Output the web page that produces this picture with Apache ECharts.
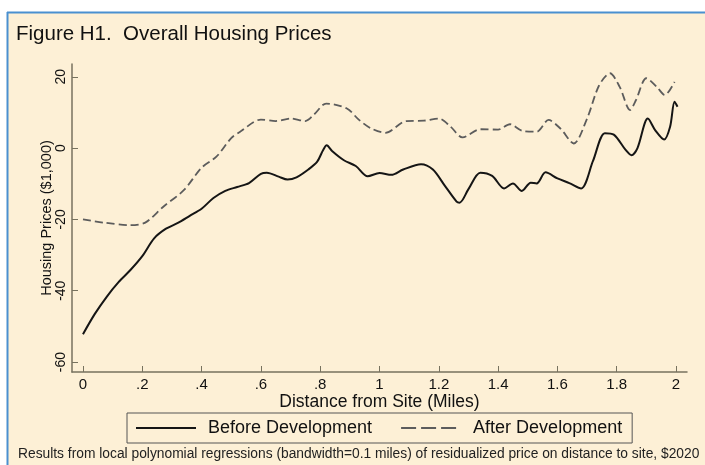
<!DOCTYPE html>
<html>
<head>
<meta charset="utf-8">
<title>Figure H1. Overall Housing Prices</title>
<script src="https://cdn.jsdelivr.net/npm/echarts@6/dist/echarts.min.js"></script>
<style>
    html, body { margin: 0; padding: 0; background: #ffffff; }
    #chart { width: 705px; height: 465px; }
</style>
</head>
<body>
<div id="chart"></div>
<script>
// distance from site (miles) and residualized price ($1,000)
const distBefore = [0, 0.04, 0.08, 0.12, 0.16, 0.2, 0.24, 0.28, 0.32, 0.36, 0.4, 0.44, 0.48, 0.52, 0.56, 0.6, 0.62, 0.66, 0.69, 0.72, 0.76, 0.79, 0.81, 0.822, 0.84, 0.88, 0.92, 0.96, 1.0, 1.04, 1.08, 1.14, 1.18, 1.22, 1.26, 1.27, 1.3, 1.34, 1.38, 1.42, 1.45, 1.48, 1.51, 1.53, 1.56, 1.6, 1.64, 1.68, 1.72, 1.76, 1.79, 1.83, 1.85, 1.87, 1.905, 1.93, 1.96, 1.98, 1.995, 2.005]
const priceBefore = [-52.2, -46.5, -41.7, -37.6, -34.2, -30.3, -25.3, -22.6, -21.0, -19.0, -17.0, -14.0, -12.0, -10.9, -9.8, -7.2, -6.9, -8.0, -8.8, -8.2, -6.0, -3.8, -0.5, 0.8, -0.8, -3.4, -5.0, -7.9, -7.0, -7.5, -6.0, -4.5, -6.0, -10.5, -15.0, -15.3, -11.5, -6.9, -7.8, -11.3, -9.9, -12.0, -9.7, -9.9, -6.8, -8.5, -9.8, -11.3, -3.6, 4.2, 3.8, -0.5, -2.0, 0.0, 8.3, 5.0, 2.4, 6.0, 13.0, 11.6]

const distAfter = [0, 0.07, 0.16, 0.21, 0.27, 0.34, 0.4, 0.45, 0.5, 0.53, 0.6, 0.65, 0.7, 0.75, 0.78, 0.82, 0.89, 0.93, 0.97, 1.02, 1.09, 1.15, 1.2, 1.24, 1.28, 1.34, 1.4, 1.44, 1.48, 1.53, 1.57, 1.61, 1.655, 1.7, 1.74, 1.777, 1.81, 1.845, 1.865, 1.9, 1.935, 1.962, 1.995]
const priceAfter = [-20.0, -20.9, -21.6, -20.9, -16.5, -11.8, -5.5, -2.4, 2.8, 4.6, 8.0, 7.6, 8.3, 7.6, 9.5, 12.5, 11.1, 8.0, 5.6, 4.3, 7.6, 7.7, 8.3, 6.0, 3.0, 5.3, 5.2, 6.7, 4.9, 4.6, 7.9, 5.5, 1.3, 8.3, 17.5, 21.0, 17.2, 10.7, 13.5, 19.6, 17.2, 14.9, 18.6]

// tick labels
const xTicks = [0, 0.2, 0.4, 0.6, 0.8, 1, 1.2, 1.4, 1.6, 1.8, 2]
const yTicks = [-60, -40, -20, 0, 20]

const seriesNames = ['Before Development', 'After Development']
const titleText = 'Figure H1.  Overall Housing Prices'
const noteText = 'Results from local polynomial regressions (bandwidth=0.1 miles) of residualized price on distance to site, $2020'

const chart = echarts.init(document.getElementById('chart'))

// 把两个数组拼成 [x, y]
const toPairs = (xs, ys) => xs.map((x, i) => [x, ys[i]])

// Stata 风格: 0 -> "0", 0.2 -> ".2"
const fmtX = v => {
    const s = String(Math.round(v * 10) / 10)
    return s.startsWith('0.') ? s.slice(1) : s
}

const axisColor = '#77725f'
const font = 'Liberation Sans, Arial, sans-serif'

const option = {
    backgroundColor: '#ffffff',
    animation: false,
    graphic: [
        // 奶油色底 + 左/上蓝边
        {type: 'rect', shape: {x: 8, y: 13, width: 697, height: 452}, style: {fill: '#fdf0d6'}, z: -10},
        {type: 'line', shape: {x1: 7, y1: 12.5, x2: 705, y2: 12.5}, style: {stroke: '#4a90d0', lineWidth: 2}, z: -9},
        {type: 'line', shape: {x1: 7.5, y1: 12, x2: 7.5, y2: 465}, style: {stroke: '#4a90d0', lineWidth: 2}, z: -9}
    ],
    title: [
        {
            text: titleText,
            left: 16,
            top: 24,
            padding: 0,
            textStyle: {fontFamily: font, fontSize: 20.5, fontWeight: 'normal', color: '#111'}
        },
        {
            text: noteText,
            left: 18,
            top: 447,
            padding: 0,
            textStyle: {fontFamily: font, fontSize: 13.8, fontWeight: 'normal', color: '#222'}
        }
    ],
    legend: {
        left: 127,
        top: 413,
        padding: [6, 10, 6, 8],
        borderColor: '#555',
        borderWidth: 1,
        itemWidth: 60,
        itemHeight: 14,
        itemGap: 28,
        itemStyle: {opacity: 0},
        textStyle: {fontFamily: font, fontSize: 18, color: '#111', padding: [0, 0, 0, 7]},
        data: [
            {name: seriesNames[0]},
            {name: seriesNames[1], lineStyle: {type: [15, 5]}}
        ]
    },
    grid: {left: 72, right: 18, top: 64, bottom: 93},
    xAxis: {
        type: 'value',
        min: -0.037,
        max: 2.037,
        name: 'Distance from Site (Miles)',
        nameLocation: 'middle',
        nameGap: 21,
        nameMoveOverlap: false,
        nameTextStyle: {fontFamily: font, fontSize: 17.5, color: '#111'},
        splitLine: {show: false},
        axisLine: {show: true, onZero: false, lineStyle: {color: axisColor, width: 1.5}},
        axisTick: {show: true, inside: true, length: 6, customValues: xTicks, lineStyle: {color: axisColor}},
        axisLabel: {
            customValues: xTicks,
            formatter: fmtX,
            margin: 5,
            fontFamily: font,
            fontSize: 15,
            color: '#111'
        }
    },
    yAxis: {
        type: 'value',
        min: -62.8,
        max: 23.6,
        name: 'Housing Prices ($1,000)',
        nameLocation: 'middle',
        nameRotate: 90,
        nameGap: 18,
        nameMoveOverlap: false,
        nameTextStyle: {fontFamily: font, fontSize: 14.5, color: '#111'},
        splitLine: {show: false},
        axisLine: {show: true, onZero: false, lineStyle: {color: axisColor, width: 1.5}},
        axisTick: {show: true, inside: true, length: 6, customValues: yTicks, lineStyle: {color: axisColor}},
        axisLabel: {
            customValues: yTicks,
            rotate: 90,
            margin: 4,
            fontFamily: font,
            fontSize: 14,
            color: '#111'
        }
    },
    series: [
        {
            name: seriesNames[0],
            type: 'line',
            data: toPairs(distBefore, priceBefore),
            symbol: 'none',
            smooth: 0.3,
            lineStyle: {color: '#151515', width: 2},
            itemStyle: {color: '#151515'}
        },
        {
            name: seriesNames[1],
            type: 'line',
            data: toPairs(distAfter, priceAfter),
            symbol: 'none',
            smooth: 0.3,
            lineStyle: {color: '#5c5c5c', width: 1.8, type: [8, 4]},
            itemStyle: {color: '#5c5c5c'}
        }
    ]
}

chart.setOption(option)
</script>
</body>
</html>
